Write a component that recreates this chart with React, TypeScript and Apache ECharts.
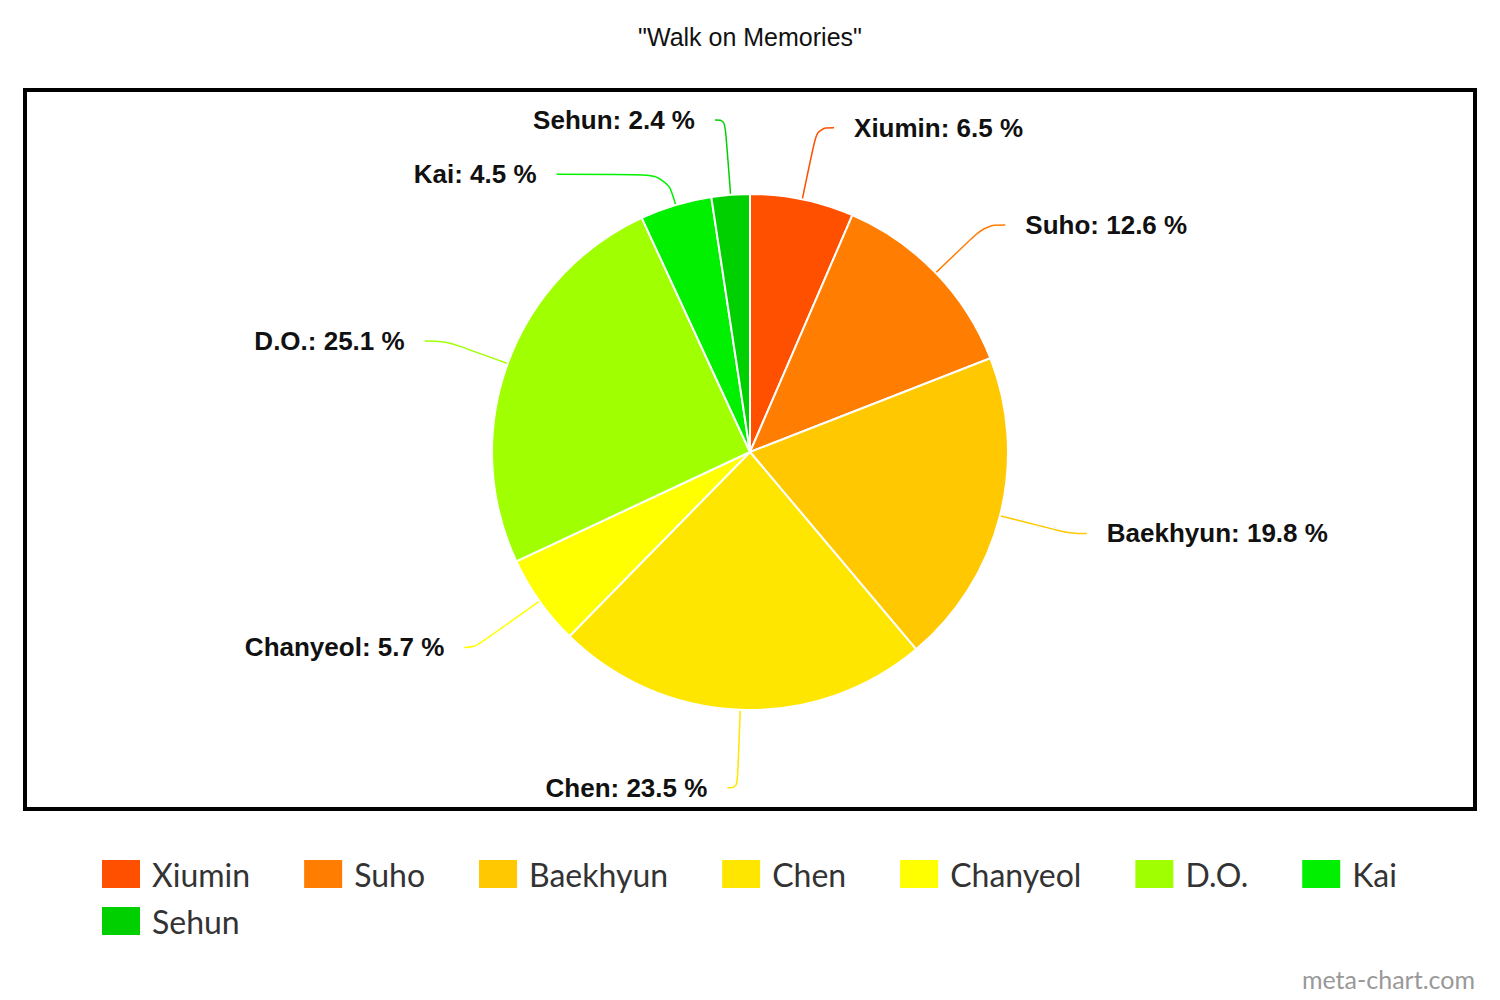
import React, { useRef, useEffect } from 'react';
import * as echarts from 'echarts';

const members = ['Xiumin', 'Suho', 'Baekhyun', 'Chen', 'Chanyeol', 'D.O.', 'Kai', 'Sehun'];
const shares = [6.5, 12.6, 19.8, 23.5, 5.7, 25.1, 4.5, 2.4];
const colors = ['#ff5000', '#ff7d00', '#ffc800', '#ffe600', '#ffff00', '#a0ff00', '#00f000', '#00d000'];
// label line lengths per slice: [radial, horizontal]
const lineLengths = [[73, 17], [69, 20], [72, 17], [78, 10], [80, 10], [66, 21], [32, 110], [75, 10]];

export default function App() {
  const chartRef = useRef<HTMLDivElement>(null);

  useEffect(() => {
    document.body.style.margin = '0';
    if (!chartRef.current) return;
    const chart = echarts.init(chartRef.current, undefined, { renderer: 'svg' });

    const legendText = { fontFamily: 'Lato', fontSize: 32, color: '#333', padding: [0, 0, 0, 6] };

    const option: echarts.EChartsOption = {
      animation: false,
      backgroundColor: '#ffffff',
      title: {
        text: '"Walk on Memories"',
        left: 'center',
        top: 19,
        textStyle: { fontFamily: 'Liberation Sans', fontSize: 25, fontWeight: 'normal', color: '#111' },
      },
      legend: [
        {
          left: 100,
          top: 858,
          padding: 0,
          itemWidth: 40,
          itemHeight: 30,
          itemGap: 52,
          icon: 'rect',
          textStyle: legendText,
          data: members.slice(0, 7),
        },
        {
          left: 100,
          top: 905,
          padding: 0,
          itemWidth: 40,
          itemHeight: 30,
          icon: 'rect',
          textStyle: legendText,
          data: members.slice(7),
        },
      ],
      graphic: [
        {
          type: 'rect',
          shape: { x: 25, y: 90, width: 1450, height: 719 },
          style: { fill: 'none', stroke: '#000', lineWidth: 4 },
        },
        {
          type: 'text',
          right: 25,
          top: 966,
          style: { text: 'meta-chart.com', fill: '#999', font: '25px Lato' },
        },
      ],
      series: [
        {
          type: 'pie',
          center: [750, 452],
          radius: 258,
          startAngle: 90,
          clockwise: true,
          itemStyle: { borderColor: '#fff', borderWidth: 2 },
          label: {
            formatter: '{b}: {c} %',
            fontFamily: 'Liberation Sans',
            fontWeight: 'bold',
            fontSize: 26,
            color: '#111',
            distanceToLabelLine: 20,
          },
          labelLine: { smooth: 0.4, lineStyle: { width: 1.5 } },
          data: members.map((m, i) => ({
            name: m,
            value: shares[i],
            itemStyle: { color: colors[i] },
            labelLine: { length: lineLengths[i][0], length2: lineLengths[i][1] },
          })),
        },
      ],
    };

    chart.setOption(option);
    return () => chart.dispose();
  }, []);

  return <div ref={chartRef} style={{ width: 1500, height: 1000 }} />;
}
